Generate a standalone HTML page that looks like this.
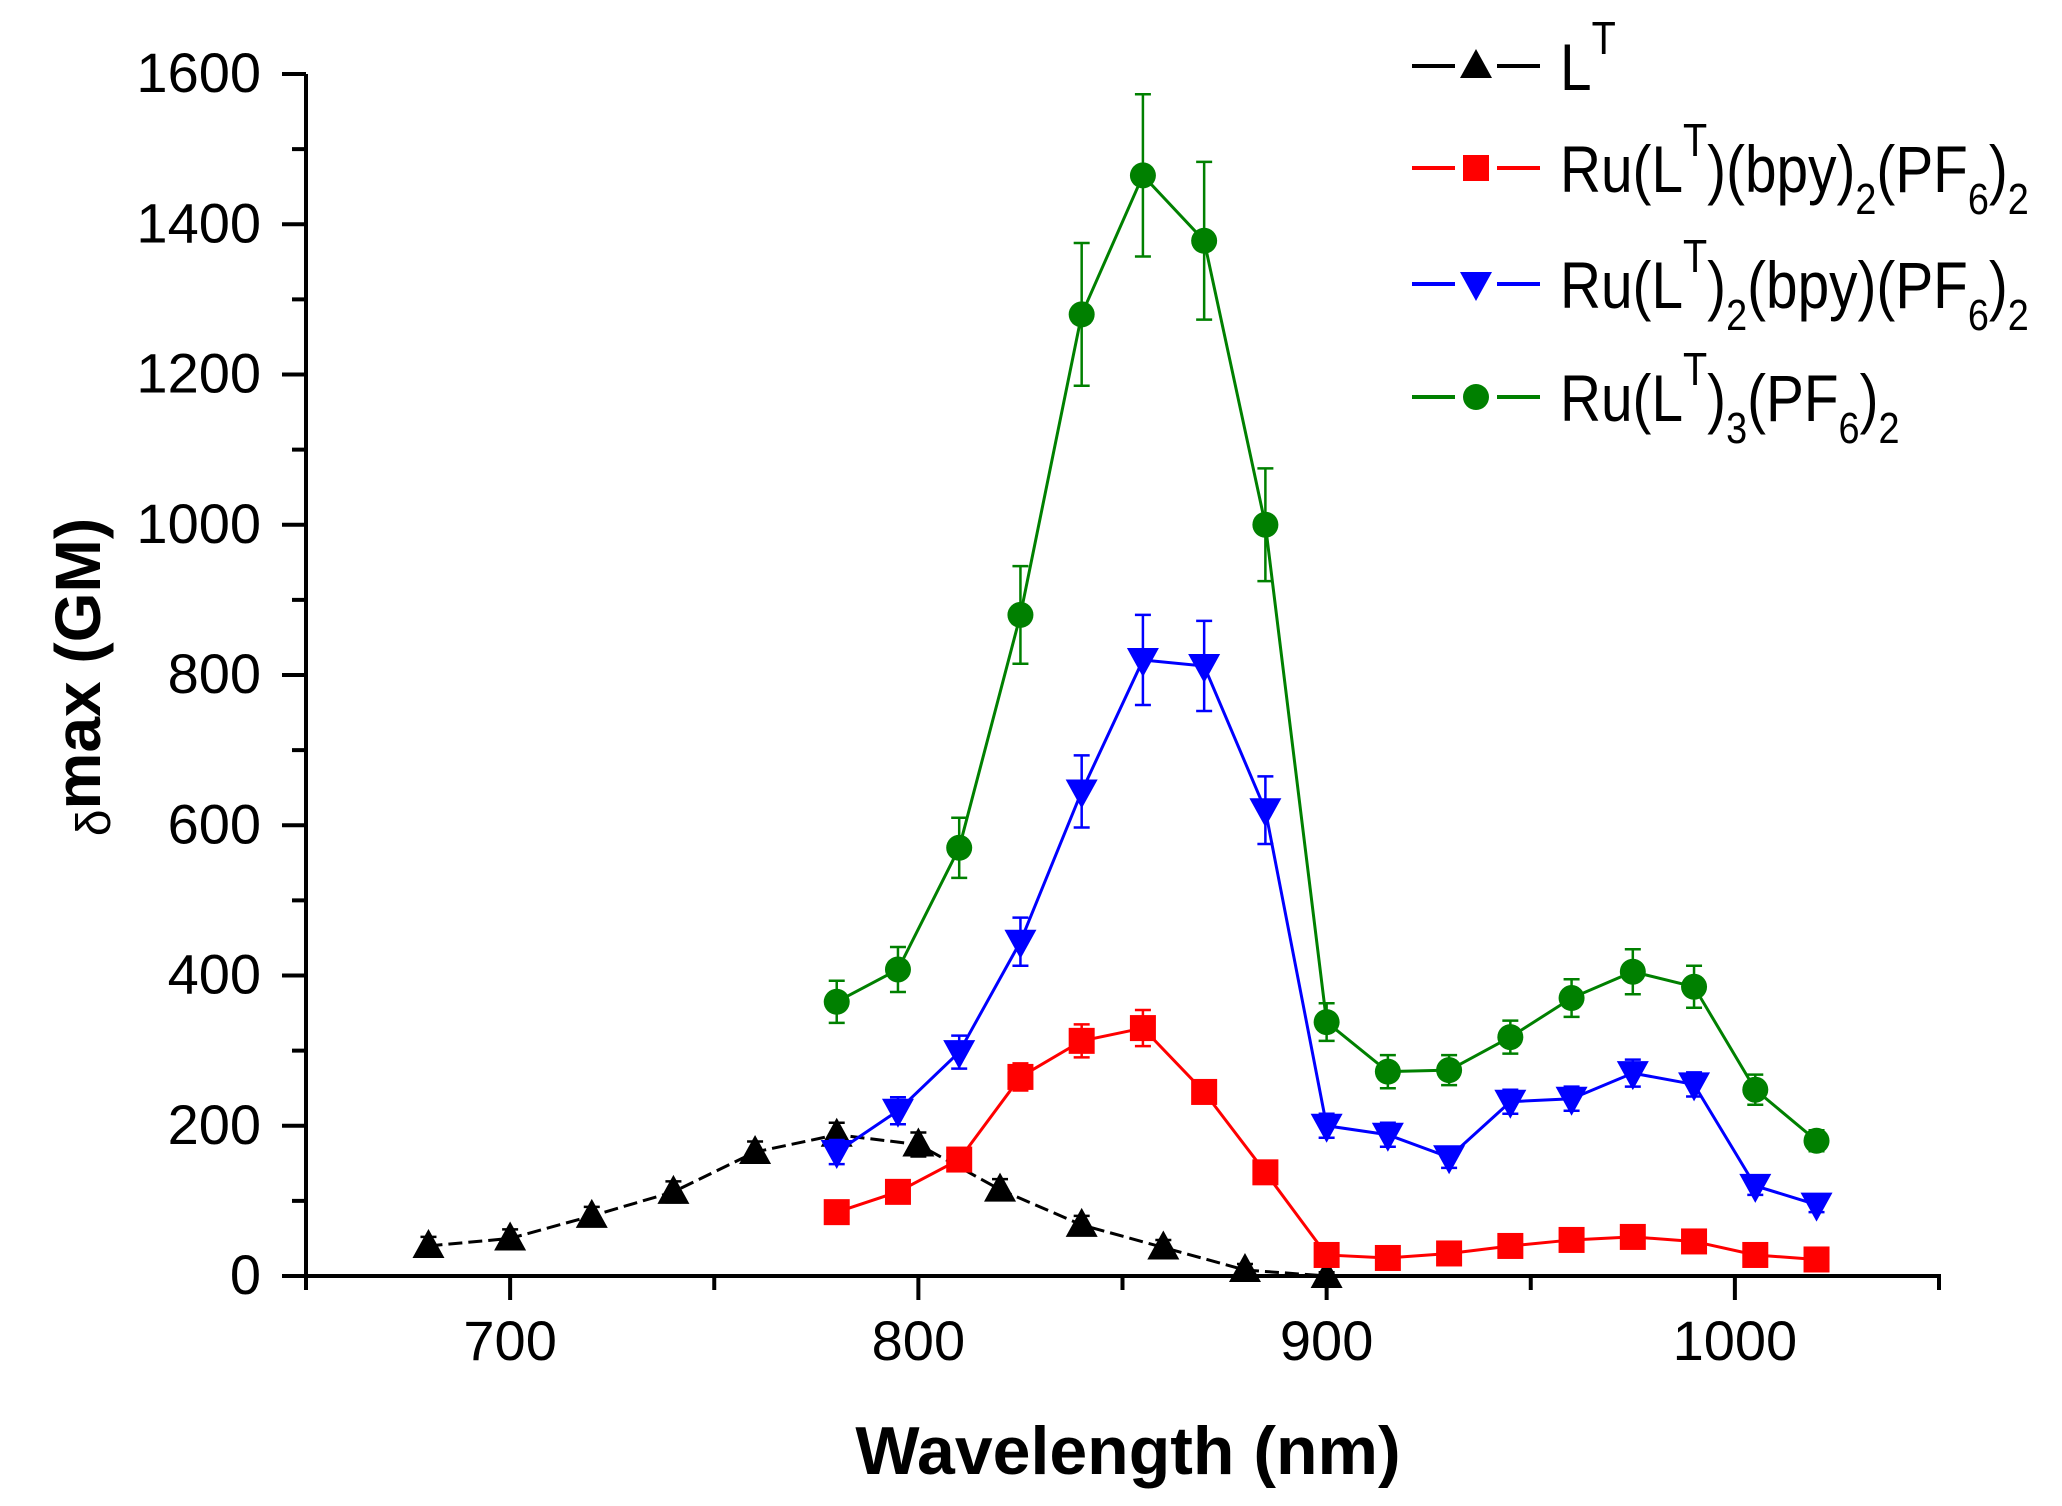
<!DOCTYPE html>
<html><head><meta charset="utf-8"><style>
html,body{margin:0;padding:0;background:#fff}
svg{display:block;font-family:"Liberation Sans",Arial,sans-serif}
</style></head><body>
<svg id="chart" width="2062" height="1506" viewBox="0 0 2062 1506" xmlns="http://www.w3.org/2000/svg">
<g id="axes"></g>
<g id="plot"></g>
<g id="legend"></g>
<text transform="translate(100,677) rotate(-90)" text-anchor="middle" font-size="64" font-weight="bold"><tspan font-weight="normal" font-size="48" dy="10">δ</tspan><tspan dy="-10">max (GM)</tspan></text>
<text x="1128" y="1474" text-anchor="middle" font-size="68" font-weight="bold">Wavelength (nm)</text>
</svg>
<script>
const xTicks=[700,800,900,1000];
const yTicks=[0,200,400,600,800,1000,1200,1400,1600];
const lt_x=[680,700,720,740,760,780,800,820,840,860,880,900];
const lt_y=[40,50,80,112,165,188,175,115,68,38,8,0];
const lt_e=[12,12,12,14,14,16,16,14,12,10,8,5];
const ru_x=[780,795,810,825,840,855,870,885,900,915,930,945,960,975,990,1005,1020];
const red_y=[85,112,155,265,313,330,245,138,28,24,30,40,48,52,46,28,22];
const red_e=[10,10,12,18,22,24,15,10,8,6,6,8,8,8,8,6,6];
const blue_y=[165,220,298,445,645,820,812,620,200,188,158,232,236,270,255,120,95];
const blue_e=[16,18,22,32,48,60,60,45,16,16,14,16,16,18,16,12,10];
const green_y=[365,408,570,880,1280,1465,1378,1000,338,272,274,318,370,405,385,248,180];
const green_e=[28,30,40,65,95,108,105,75,25,22,20,22,25,30,28,20,14];

const NS="http://www.w3.org/2000/svg";
const X0=306,X1=1939,XMIN=650,XMAX=1050,Y0=1276,Y1=74,YMAX=1600;
const sx=v=>X0+(v-XMIN)/(XMAX-XMIN)*(X1-X0);
const sy=v=>Y0-v/YMAX*(Y0-Y1);
function el(tag,attrs,parent){const e=document.createElementNS(NS,tag);for(const k in attrs)e.setAttribute(k,attrs[k]);parent.appendChild(e);return e;}
const axes=document.getElementById('axes'),plot=document.getElementById('plot'),legend=document.getElementById('legend');

let a=el('line',{x1:X0-2,y1:Y0,x2:X1+2,y2:Y0,stroke:'#000','stroke-width':4},axes);

a=el('line',{x1:X0,y1:Y0+2,x2:X0,y2:Y1,stroke:'#000','stroke-width':4},axes);

for(let v=XMIN;v<=XMAX;v+=50){const major=xTicks.includes(v);
 const t=el('line',{x1:sx(v),x2:sx(v),y1:Y0,y2:Y0+(major?24:14),stroke:'#000','stroke-width':4},axes);
 }
xTicks.forEach(v=>{const t=el('text',{x:sx(v),y:1360,'text-anchor':'middle','font-size':56},axes);t.textContent=v;
 });
for(let v=0;v<=YMAX;v+=100){const major=yTicks.includes(v);
 const t=el('line',{x1:X0,x2:X0-(major?24:14),y1:sy(v),y2:sy(v),stroke:'#000','stroke-width':4},axes);
 }
yTicks.forEach(v=>{const t=el('text',{x:261,y:sy(v)+18,'text-anchor':'end','font-size':56},axes);t.textContent=v;
 });

function marker(type,x,y,color,parent,name){let m;
 if(type==='tri')m=el('polygon',{points:`${x},${y-17} ${x-16},${y+12} ${x+16},${y+12}`,fill:color},parent);
 else if(type==='tridown')m=el('polygon',{points:`${x},${y+17} ${x-16},${y-12} ${x+16},${y-12}`,fill:color},parent);
 else if(type==='sq')m=el('rect',{x:x-13,y:y-13,width:26,height:26,fill:color},parent);
 else m=el('circle',{cx:x,cy:y,r:13,fill:color},parent);
 }
function series(xs,ys,es,color,type,dash,name){
 const g=el('g',{},plot);
 xs.forEach((x,i)=>{const px=sx(x),t=sy(ys[i]+es[i]),b=sy(Math.max(0,ys[i]-es[i]));
  const e=el('path',{d:`M${px},${t}V${b}M${px-8},${t}H${px+8}M${px-8},${b}H${px+8}`,stroke:color,'stroke-width':2.5,fill:'none'},g);
  });
 const p=el('polyline',{points:xs.map((x,i)=>sx(x)+','+sy(ys[i])).join(' '),fill:'none',stroke:color,'stroke-width':3,'stroke-dasharray':dash},g);
 
 xs.forEach((x,i)=>marker(type,sx(x),sy(ys[i]),color,g,name+'-point'));}
series(lt_x,lt_y,lt_e,'#000','tri','14 6','lt');
series(ru_x,red_y,red_e,'#ff0000','sq','none','ru-bpy2');
series(ru_x,blue_y,blue_e,'#0000ff','tridown','none','ru-lt2-bpy');
series(ru_x,green_y,green_e,'#008000','circ','none','ru-lt3');

const leg=[
 {c:'#000',t:'tri',y:66,h:'L<tspan font-size="46" dy="-36">T</tspan>'},
 {c:'#ff0000',t:'sq',y:168,h:'Ru(L<tspan font-size="46" dy="-36">T</tspan><tspan dy="36">)(bpy)</tspan><tspan font-size="44" dy="22">2</tspan><tspan dy="-22">(PF</tspan><tspan font-size="44" dy="22">6</tspan><tspan dy="-22">)</tspan><tspan font-size="44" dy="22">2</tspan>'},
 {c:'#0000ff',t:'tridown',y:284,h:'Ru(L<tspan font-size="46" dy="-36">T</tspan><tspan dy="36">)</tspan><tspan font-size="44" dy="22">2</tspan><tspan dy="-22">(bpy)(PF</tspan><tspan font-size="44" dy="22">6</tspan><tspan dy="-22">)</tspan><tspan font-size="44" dy="22">2</tspan>'},
 {c:'#008000',t:'circ',y:397,h:'Ru(L<tspan font-size="46" dy="-36">T</tspan><tspan dy="36">)</tspan><tspan font-size="44" dy="22">3</tspan><tspan dy="-22">(PF</tspan><tspan font-size="44" dy="22">6</tspan><tspan dy="-22">)</tspan><tspan font-size="44" dy="22">2</tspan>'}];
leg.forEach(l=>{const g=el('g',{},legend);
 
 el('line',{x1:1412,x2:1455,y1:l.y,y2:l.y,stroke:l.c,'stroke-width':4},g);
 el('line',{x1:1497,x2:1540,y1:l.y,y2:l.y,stroke:l.c,'stroke-width':4},g);
 marker(l.t,1476,l.y,l.c,g,'legend-marker');
 const t=el('text',{x:0,y:0,'font-size':66,transform:`translate(1560,${l.y+24}) scale(0.86,1)`},g);t.innerHTML=l.h;
 });
</script>
</body></html>
